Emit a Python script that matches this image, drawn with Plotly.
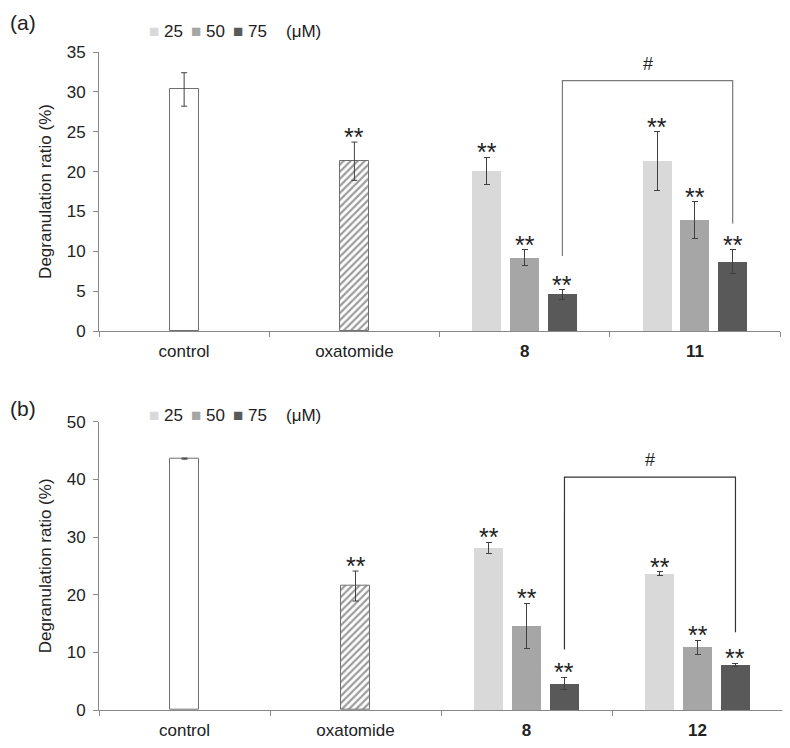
import plotly.graph_objects as go

# categories on the x axis
cats_a = ["control", "oxatomide", "<b>8</b>", "<b>11</b>"]
cats_b = ["control", "oxatomide", "<b>8</b>", "<b>12</b>"]
doses = ["25", "50", "75"]
dose_colors = ["#d9d9d9", "#a6a6a6", "#595959"]

# panel (a) values, degranulation ratio (%)
ctrl_a, ctrl_a_err = 30.3, 2.1
oxa_a, oxa_a_err = 21.3, 2.4
c8_a = [20.1, 9.2, 4.6]
c8_a_err = [1.7, 1.0, 0.6]
c11_a = [21.3, 13.9, 8.7]
c11_a_err = [3.7, 2.3, 1.5]
bracket_a = [31.4, 9.4, 13.5]  # top, left end, right end

# panel (b)
ctrl_b, ctrl_b_err = 43.6, 0.1
oxa_b, oxa_b_err = 21.5, 2.6
c8_b = [28.1, 14.6, 4.6]
c8_b_err = [1.0, 3.9, 1.1]
c12_b = [23.7, 10.9, 7.85]
c12_b_err = [0.3, 1.2, 0.25]
bracket_b = [40.4, 10.5, 13.5]

# page has an 8px body margin, so the figure is a bit smaller than the window
W, H = 782, 740
OFF = 8
BW = 0.17      # bar width (category units)
STEP = 0.222   # distance between grouped bars
TXT = "#222222"
AX = "#888888"
FONT = "Liberation Sans, Arial, sans-serif"


def px(x):
    return (x - OFF) / W


def py(y):
    return 1 - (y - OFF) / H


fig = go.Figure()
annots = []
shapes = []


def add_panel(n, cats, ctrl, ctrl_err, oxa, oxa_err, g1, g1_err, g2, g2_err, bracket, bracket_color):
    xa = "x" if n == 1 else "x2"
    ya = "y" if n == 1 else "y2"
    err_style = dict(type="data", color="#404040", thickness=1, width=3)
    fig.add_trace(go.Bar(x=[cats[0]], y=[ctrl], width=BW, offset=-BW / 2, xaxis=xa, yaxis=ya,
                         marker=dict(color="white", line=dict(color="#6f6f6f", width=1)),
                         error_y=dict(array=[ctrl_err], **err_style), showlegend=False))
    fig.add_trace(go.Bar(x=[cats[1]], y=[oxa], width=BW, offset=-BW / 2, xaxis=xa, yaxis=ya,
                         marker=dict(color="white", line=dict(color="#6f6f6f", width=1),
                                     pattern=dict(shape="/", fgcolor="#3a3a3a", bgcolor="white",
                                                  size=5, solidity=0.45)),
                         error_y=dict(array=[oxa_err], **err_style), showlegend=False))
    for i in range(3):
        fig.add_trace(go.Bar(x=[cats[2], cats[3]], y=[g1[i], g2[i]], width=BW,
                             offset=(i - 1) * STEP - BW / 2, xaxis=xa, yaxis=ya,
                             marker=dict(color=dose_colors[i], line=dict(width=0)),
                             error_y=dict(array=[g1_err[i], g2_err[i]], **err_style),
                             showlegend=False))
    # significance stars
    star_pts = [(1, oxa + oxa_err)]
    for i in range(3):
        star_pts.append((2 + (i - 1) * STEP, g1[i] + g1_err[i]))
        star_pts.append((3 + (i - 1) * STEP, g2[i] + g2_err[i]))
    for sx, sy in star_pts:
        annots.append(dict(x=sx, y=sy, xref=xa, yref=ya, text="**", showarrow=False,
                           yanchor="bottom", yshift=-11, font=dict(size=25, color=TXT, family=FONT)))
    # bracket between the 75 uM bars
    xl, xr = 2 + STEP, 3 + STEP
    top, lb, rb = bracket
    shapes.append(dict(type="path", xref=xa, yref=ya,
                       path=f"M {xl},{lb} L {xl},{top} L {xr},{top} L {xr},{rb}",
                       line=dict(color=bracket_color, width=1.2)))
    annots.append(dict(x=(xl + xr) / 2, y=top, xref=xa, yref=ya, text="#", showarrow=False,
                       yanchor="bottom", yshift=5, font=dict(size=18, color=TXT, family=FONT)))


add_panel(1, cats_a, ctrl_a, ctrl_a_err, oxa_a, oxa_a_err, c8_a, c8_a_err, c11_a, c11_a_err,
          bracket_a, "#7a7a7a")
add_panel(2, cats_b, ctrl_b, ctrl_b_err, oxa_b, oxa_b_err, c8_b, c8_b_err, c12_b, c12_b_err,
          bracket_b, "#333333")

# panel letters and dose legends
for lbl, ly in [("(a)", 22), ("(b)", 408)]:
    annots.append(dict(x=0, y=py(ly), xref="paper", yref="paper", text=lbl, showarrow=False,
                       xanchor="left", yanchor="middle", font=dict(size=21, color=TXT, family=FONT)))
for ly in [31, 415]:
    for i, d in enumerate(doses):
        annots.append(dict(x=px(147 + 42 * i), y=py(ly), xref="paper", yref="paper",
                           text=f'<span style="color:{dose_colors[i]}">■</span> {d}', showarrow=False,
                           xanchor="left", yanchor="middle", font=dict(size=17, color=TXT, family=FONT)))
    annots.append(dict(x=px(284), y=py(ly), xref="paper", yref="paper", text="(μM)", showarrow=False,
                       xanchor="left", yanchor="middle", font=dict(size=17, color=TXT, family=FONT)))

xcommon = dict(type="category", tickson="boundaries", ticks="outside", ticklen=5, tickcolor=AX,
               showline=True, linecolor=AX, linewidth=1, showgrid=False, zeroline=False,
               automargin=False, ticklabelstandoff=5,
               tickfont=dict(size=17, color=TXT, family=FONT), range=[-0.5, 3.5])
ycommon = dict(ticks="outside", ticklen=5, tickcolor=AX, showline=True, linecolor=AX, linewidth=1,
               showgrid=False, zeroline=False, automargin=False, ticklabelstandoff=4,
               tickfont=dict(size=17, color=TXT, family=FONT),
               title=dict(text="Degranulation ratio (%)", font=dict(size=17, color=TXT, family=FONT),
                          standoff=10))

fig.update_layout(
    width=W, height=H,
    margin=dict(l=0, r=0, t=0, b=0),
    paper_bgcolor="white", plot_bgcolor="white",
    bargap=0, showlegend=False,
    xaxis=dict(domain=[px(99), px(780)], anchor="y", categoryarray=cats_a, **xcommon),
    yaxis=dict(domain=[py(331), py(52)], anchor="x", range=[0, 35], dtick=5, **ycommon),
    xaxis2=dict(domain=[px(99), px(783)], anchor="y2", categoryarray=cats_b, **xcommon),
    yaxis2=dict(domain=[py(710), py(421.7)], anchor="x2", range=[0, 50], dtick=10, **ycommon),
    annotations=annots,
    shapes=shapes,
)

fig.write_html("out.html")
